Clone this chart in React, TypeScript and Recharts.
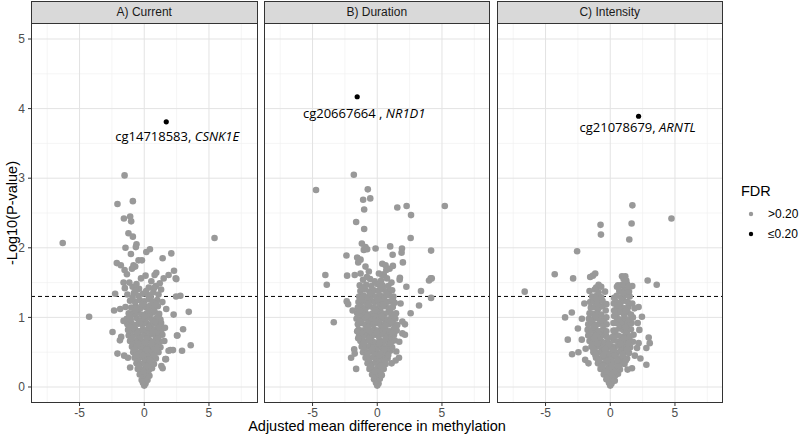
import React from "react";
import { ScatterChart, Scatter, XAxis, YAxis, CartesianGrid, ReferenceLine } from "recharts";

const xTicks = [-5, 0, 5];
const yTicks = [0, 1, 2, 3, 4, 5];
const xMinor = [-7.5, -2.5, 2.5, 7.5];
const yMinor = [0.5, 1.5, 2.5, 3.5, 4.5];
const pLine = 1.301;
const panelTitles = ["A) Current", "B) Duration", "C) Intensity"];
const legendLabels = [">0.20", "\u22640.20"];

// -log10 p vs adjusted mean difference, FDR > 0.20
const currentPoints = [
  [0, 0.02], [0.1, 0.05], [-0.1, 0.06], [-0.2, 0.1], [0.05, 0.12], [0.25, 0.1],
  [-0.35, 0.18], [-0.1, 0.17], [0.15, 0.19], [0.4, 0.16], [-0.5, 0.26], [-0.2, 0.25],
  [0.1, 0.27], [0.35, 0.24], [0.6, 0.27], [-0.6, 0.34], [-0.3, 0.33], [0, 0.35],
  [0.25, 0.32], [0.5, 0.35], [0.75, 0.33], [-0.75, 0.42], [-0.45, 0.41], [-0.15, 0.43],
  [0.1, 0.4], [0.4, 0.42], [0.65, 0.43], [0.9, 0.41], [-0.85, 0.5], [-0.55, 0.49],
  [-0.25, 0.51], [0.05, 0.5], [0.3, 0.48], [0.6, 0.51], [0.85, 0.49], [1.1, 0.5],
  [-0.95, 0.58], [-0.65, 0.57], [-0.35, 0.59], [-0.05, 0.58], [0.2, 0.56], [0.5, 0.59],
  [0.75, 0.57], [1.0, 0.6], [1.25, 0.57], [-1.1, 0.66], [-0.8, 0.65], [-0.5, 0.67],
  [-0.2, 0.66], [0.1, 0.64], [0.4, 0.67], [0.65, 0.65], [0.9, 0.68], [1.2, 0.65],
  [-1.2, 0.74], [-0.9, 0.73], [-0.6, 0.75], [-0.3, 0.72], [0, 0.75], [0.3, 0.73],
  [0.55, 0.76], [0.85, 0.74], [1.1, 0.72], [1.4, 0.75], [-1.25, 0.82], [-0.95, 0.81],
  [-0.7, 0.83], [-0.4, 0.8], [-0.1, 0.83], [0.2, 0.81], [0.5, 0.84], [0.8, 0.82],
  [1.05, 0.8], [1.35, 0.83], [-1.3, 0.9], [-1.0, 0.92], [-0.75, 0.89], [-0.45, 0.91],
  [-0.15, 0.9], [0.15, 0.92], [0.45, 0.89], [0.7, 0.91], [1.0, 0.9], [1.3, 0.92],
  [-1.35, 0.98], [-1.05, 0.97], [-0.6, 0.99], [-0.3, 0.96], [0.05, 0.98], [0.35, 1.0],
  [0.6, 0.97], [0.95, 0.99], [1.25, 0.97], [-1.2, 1.06], [-0.85, 1.05], [-0.5, 1.07],
  [-0.2, 1.04], [0.2, 1.06], [0.5, 1.05], [0.8, 1.08], [1.15, 1.05], [-1.45, 1.15],
  [-1.0, 1.14], [-0.65, 1.16], [-0.3, 1.13], [0.1, 1.15], [0.45, 1.17], [0.75, 1.14],
  [1.05, 1.16], [-1.1, 1.24], [-0.7, 1.22], [-0.35, 1.25], [0, 1.23], [0.35, 1.26],
  [0.65, 1.22], [1.0, 1.25], [1.4, 1.22], [-1.3, 1.33], [-0.8, 1.35], [-0.45, 1.31],
  [-0.1, 1.34], [0.3, 1.32], [0.7, 1.36], [1.1, 1.33], [-1.5, 1.42], [-0.9, 1.44],
  [-0.4, 1.41], [0.35, 1.43], [0.9, 1.45], [-1.6, 1.5], [-0.6, 1.48], [0.55, 1.52],
  [1.2, 1.49],
  [-0.05, 0.22], [0.2, 0.3], [-0.4, 0.3], [0.45, 0.38], [-0.6, 0.46], [0.75, 0.46],
  [-0.1, 0.46], [0.2, 0.54], [-0.8, 0.54], [0.95, 0.54], [-0.45, 0.62], [0.55, 0.62],
  [-1.0, 0.7], [0.2, 0.7], [1.05, 0.7], [-0.55, 0.78], [0.65, 0.78], [-1.1, 0.86],
  [0.35, 0.86], [1.2, 0.86], [-0.35, 0.94], [0.85, 0.94], [-1.15, 1.02], [0, 1.02],
  [1.1, 1.01], [-0.7, 1.1], [0.35, 1.1], [-0.15, 1.19], [0.9, 1.19], [-0.9, 1.28],
  [0.5, 1.29], [0.15, 1.38], [-0.65, 1.39], [0.1, 1.6], [-0.25, 1.56], [0.75, 1.42],
  [1.3, 1.4], [-1.15, 1.5],
  [-1.52, 3.04], [-2.07, 2.63], [-0.88, 2.67], [-1.57, 2.42], [-1.09, 2.45], [-1.01, 2.38],
  [-1.22, 2.21], [-0.88, 2.16], [5.43, 2.14], [-1.45, 2.0], [-0.6, 2.05], [-0.65, 2.01],
  [-1.03, 1.91], [0.16, 1.94], [0.44, 1.98], [1.42, 1.85], [2.09, 1.92], [-2.12, 1.78],
  [-1.81, 1.75], [-0.44, 1.82], [-0.18, 1.82], [-0.83, 1.75], [-0.7, 1.73], [-0.95, 1.7],
  [-1.52, 1.68], [-1.34, 1.62], [0.93, 1.64], [0.8, 1.61], [1.88, 1.61], [2.3, 1.67],
  [1.5, 1.56], [2.43, 1.56], [-6.3, 2.07], [-4.26, 1.01], [-2.45, 0.79], [-2.07, 0.48],
  [3.59, 0.6], [3.44, 1.08], [3.0, 0.83], [2.92, 0.52], [2.53, 0.74], [2.27, 1.04],
  [2.79, 1.31], [2.46, 1.3], [2.48, 1.55], [2.02, 0.53], [2.22, 0.53], [1.68, 0.4],
  [-2.33, 1.1], [-1.86, 1.12], [-2.25, 1.34], [-1.88, 0.67], [-1.78, 0.72], [-1.55, 0.45],
  [-1.26, 0.42], [-1.09, 0.28], [1.63, 0.4], [1.88, 0.52], [2.56, 0.74], [1.32, 0.3],
  [1.42, 0.27], [1.6, 0.85], [1.7, 1.12], [-1.6, 0.95], [1.55, 0.66],
];

const durationPoints = [
  [0, 0.02], [-0.1, 0.06], [0.1, 0.05], [-0.25, 0.11], [0, 0.1], [0.2, 0.12],
  [-0.4, 0.18], [-0.15, 0.17], [0.1, 0.19], [0.35, 0.17], [-0.6, 0.26], [-0.3, 0.25],
  [0, 0.27], [0.25, 0.24], [0.5, 0.26], [-0.75, 0.34], [-0.45, 0.33], [-0.15, 0.35],
  [0.15, 0.33], [0.4, 0.35], [0.65, 0.33], [-0.9, 0.42], [-0.6, 0.41], [-0.3, 0.43],
  [0, 0.41], [0.3, 0.42], [0.55, 0.44], [0.8, 0.41], [-1.1, 0.5], [-0.8, 0.49],
  [-0.5, 0.51], [-0.2, 0.5], [0.1, 0.48], [0.4, 0.51], [0.7, 0.49], [1.0, 0.52],
  [-1.2, 0.58], [-0.9, 0.57], [-0.6, 0.59], [-0.3, 0.58], [0, 0.56], [0.3, 0.59],
  [0.6, 0.57], [0.9, 0.6], [1.15, 0.57], [-1.3, 0.66], [-1.0, 0.65], [-0.7, 0.67],
  [-0.4, 0.66], [-0.1, 0.64], [0.2, 0.67], [0.5, 0.65], [0.8, 0.68], [1.1, 0.65],
  [1.35, 0.67], [-1.4, 0.74], [-1.1, 0.73], [-0.8, 0.75], [-0.5, 0.72], [-0.2, 0.75],
  [0.1, 0.73], [0.4, 0.76], [0.7, 0.74], [1.0, 0.72], [1.3, 0.75], [-1.45, 0.82],
  [-1.15, 0.81], [-0.85, 0.83], [-0.55, 0.8], [-0.25, 0.83], [0.05, 0.81], [0.35, 0.84],
  [0.65, 0.82], [0.95, 0.8], [1.25, 0.83], [1.5, 0.81], [-1.5, 0.9], [-1.2, 0.92],
  [-0.9, 0.89], [-0.6, 0.91], [-0.3, 0.9], [0, 0.92], [0.3, 0.89], [0.6, 0.91],
  [0.9, 0.9], [1.2, 0.92], [1.55, 0.89], [-1.6, 0.98], [-1.3, 0.97], [-1.0, 0.99],
  [-0.7, 0.96], [-0.4, 0.98], [-0.1, 1.0], [0.2, 0.97], [0.5, 0.99], [0.8, 0.97],
  [1.1, 1.0], [1.4, 0.98], [-1.55, 1.06], [-1.25, 1.05], [-0.95, 1.07], [-0.65, 1.04],
  [-0.35, 1.06], [-0.05, 1.05], [0.25, 1.08], [0.55, 1.05], [0.85, 1.07], [1.15, 1.04],
  [1.45, 1.06], [-1.5, 1.14], [-1.2, 1.15], [-0.9, 1.13], [-0.6, 1.16], [-0.3, 1.14],
  [0, 1.13], [0.3, 1.15], [0.6, 1.16], [0.9, 1.13], [1.2, 1.15], [-1.45, 1.22],
  [-1.1, 1.23], [-0.8, 1.21], [-0.5, 1.24], [-0.2, 1.22], [0.15, 1.21], [0.45, 1.24],
  [0.75, 1.22], [1.05, 1.23], [1.35, 1.21], [-1.4, 1.3], [-1.05, 1.31], [-0.75, 1.29],
  [-0.4, 1.32], [-0.1, 1.3], [0.25, 1.31], [0.55, 1.29], [0.9, 1.32], [1.25, 1.3],
  [-1.3, 1.38], [-0.95, 1.4], [-0.6, 1.37], [-0.25, 1.39], [0.1, 1.38], [0.45, 1.4],
  [0.8, 1.37], [1.15, 1.39], [-1.35, 1.46], [-0.85, 1.47], [-0.45, 1.45], [0, 1.48],
  [0.4, 1.46], [0.85, 1.45], [-1.1, 1.54], [-0.55, 1.55], [0.3, 1.53], [0.75, 1.56],
  [-0.2, 0.22], [0.25, 0.3], [-0.5, 0.3], [0.6, 0.38], [-0.75, 0.46], [0.15, 0.45],
  [0.85, 0.46], [-0.4, 0.54], [0.55, 0.54], [-1.05, 0.62], [0.15, 0.62], [1.0, 0.62],
  [-0.6, 0.7], [0.65, 0.7], [-1.25, 0.78], [-0.05, 0.78], [1.15, 0.78], [-0.7, 0.86],
  [0.5, 0.86], [1.35, 0.86], [-1.35, 0.94], [-0.15, 0.94], [1.05, 0.94], [-0.8, 1.02],
  [0.35, 1.02], [1.25, 1.02], [-1.35, 1.1], [-0.15, 1.1], [1.0, 1.1], [-0.7, 1.18],
  [0.45, 1.18], [-1.25, 1.26], [0, 1.26], [1.2, 1.26], [-0.55, 1.34], [0.7, 1.34],
  [-1.1, 1.42], [0.25, 1.43], [-0.2, 1.52], [1.1, 1.5], [-0.8, 1.58], [0.5, 1.62],
  [-1.81, 3.05], [-4.73, 2.83], [-0.73, 2.84], [-1.09, 2.69], [-0.54, 2.71], [-1.01, 2.55],
  [1.55, 2.58], [2.27, 2.6], [5.22, 2.6], [2.61, 2.47], [-1.63, 2.37], [-1.01, 2.27],
  [2.58, 2.14], [-1.19, 2.06], [-0.91, 2.01], [-1.04, 1.97], [-0.78, 1.98], [-0.13, 1.99],
  [1.0, 2.02], [1.91, 1.99], [1.88, 1.93], [1.19, 1.9], [4.16, 1.96], [-2.38, 1.89],
  [-1.55, 1.86], [-1.29, 1.83], [-1.47, 1.79], [-0.91, 1.73], [-0.65, 1.66], [0.39, 1.77],
  [0.64, 1.75], [1.21, 1.74], [0.95, 1.7], [0.7, 1.68], [1.98, 1.79], [-4.01, 1.61],
  [-2.33, 1.6], [-1.74, 1.61], [-1.29, 1.63], [1.75, 1.57], [4.13, 1.56], [0.39, 1.61],
  [0.13, 1.63], [-3.9, 1.47], [-3.36, 0.93], [-2.36, 1.23], [-2.25, 1.19], [-2.02, 0.42],
  [-1.63, 0.26], [-1.74, 0.48], [-1.78, 0.54], [-1.47, 0.7], [-1.55, 0.8], [3.23, 1.17],
  [2.58, 1.06], [3.38, 1.38], [4.16, 1.28], [4.0, 1.53], [4.21, 1.56], [2.14, 0.9],
  [1.94, 0.94], [1.94, 0.77], [2.14, 0.75], [1.47, 0.51], [1.68, 0.42], [1.11, 0.34],
  [1.42, 0.38], [1.73, 1.54], [2.25, 1.44], [1.8, 1.2], [-1.9, 1.1], [1.7, 0.65],
];

const intensityPoints = [
  [0, 0.02], [-0.1, 0.06], [0.1, 0.05], [-0.3, 0.11], [-0.05, 0.1], [0.2, 0.12],
  [0.35, 0.09], [-0.5, 0.18], [-0.2, 0.17], [0.1, 0.19], [0.4, 0.17], [0.6, 0.19],
  [-0.75, 0.26], [-0.45, 0.25], [-0.15, 0.27], [0.15, 0.24], [0.45, 0.26], [0.75, 0.25],
  [-0.95, 0.34], [-0.65, 0.33], [-0.35, 0.35], [-0.05, 0.33], [0.25, 0.35], [0.55, 0.33],
  [0.85, 0.35], [1.1, 0.33], [-1.1, 0.42], [-0.8, 0.41], [-0.5, 0.43], [-0.2, 0.41],
  [0.1, 0.42], [0.4, 0.44], [0.7, 0.41], [1.0, 0.43], [1.3, 0.41], [-1.3, 0.5],
  [-1.0, 0.49], [-0.7, 0.51], [-0.4, 0.5], [-0.1, 0.48], [0.2, 0.51], [0.5, 0.49],
  [0.8, 0.52], [1.1, 0.5], [1.45, 0.49], [-1.45, 0.58], [-1.15, 0.57], [-0.85, 0.59],
  [-0.55, 0.58], [-0.25, 0.56], [0.05, 0.59], [0.35, 0.57], [0.65, 0.6], [0.95, 0.57],
  [1.25, 0.59], [1.55, 0.57], [-1.6, 0.66], [-1.3, 0.65], [-1.0, 0.67], [-0.7, 0.66],
  [-0.4, 0.64], [0.3, 0.67], [0.6, 0.65], [0.9, 0.68], [1.2, 0.65], [1.5, 0.67],
  [1.75, 0.65], [-1.7, 0.74], [-1.4, 0.73], [-1.1, 0.75], [-0.8, 0.72], [-0.5, 0.75],
  [-0.3, 0.73], [0.35, 0.76], [0.6, 0.74], [0.9, 0.72], [1.2, 0.75], [1.5, 0.73],
  [1.8, 0.75], [-1.75, 0.82], [-1.45, 0.81], [-1.15, 0.83], [-0.85, 0.8], [-0.55, 0.83],
  [0.4, 0.81], [0.7, 0.84], [1.0, 0.82], [1.3, 0.8], [1.6, 0.83], [-1.7, 0.9],
  [-1.4, 0.92], [-1.1, 0.89], [-0.8, 0.91], [-0.5, 0.9], [0.45, 0.92], [0.75, 0.89],
  [1.05, 0.91], [1.35, 0.9], [1.65, 0.92], [-1.65, 0.98], [-1.35, 0.97], [-1.05, 0.99],
  [-0.75, 0.96], [-0.45, 0.98], [0.5, 1.0], [0.8, 0.97], [1.1, 0.99], [1.4, 0.97],
  [1.75, 1.0], [-1.6, 1.06], [-1.3, 1.05], [-1.0, 1.07], [-0.7, 1.04], [0.45, 1.05],
  [0.75, 1.08], [1.05, 1.05], [1.35, 1.07], [1.6, 1.04], [-1.5, 1.14], [-1.2, 1.15],
  [-0.9, 1.13], [-0.6, 1.16], [0.5, 1.14], [0.8, 1.16], [1.1, 1.13], [1.4, 1.15],
  [-1.55, 1.22], [-1.25, 1.23], [-0.95, 1.21], [-0.6, 1.24], [0.45, 1.22], [0.75, 1.21],
  [1.05, 1.24], [1.35, 1.22], [1.7, 1.2], [-1.4, 1.3], [-1.05, 1.31], [-0.7, 1.29],
  [0.5, 1.31], [0.85, 1.29], [1.2, 1.32], [1.5, 1.3], [-1.6, 1.38], [-1.2, 1.4],
  [-0.4, 1.37], [0.7, 1.38], [1.1, 1.4], [1.45, 1.37], [-0.9, 1.47], [0.9, 1.46],
  [1.3, 1.48], [1.7, 1.45],
  [-0.3, 0.22], [0.3, 0.22], [-0.6, 0.3], [0.1, 0.3], [0.7, 0.3], [-0.9, 0.38],
  [-0.2, 0.38], [0.55, 0.38], [1.2, 0.38], [-1.15, 0.46], [-0.55, 0.46], [0.35, 0.46],
  [0.95, 0.46], [-1.3, 0.54], [-0.4, 0.54], [0.2, 0.54], [1.3, 0.54], [-1.0, 0.62],
  [-0.1, 0.62], [0.8, 0.62], [1.4, 0.62], [-1.25, 0.7], [-0.15, 0.7], [0.2, 0.72],
  [1.05, 0.7], [-0.3, 0.8], [0.25, 0.81], [-1.3, 0.86], [-0.28, 0.9], [0.25, 0.92],
  [1.2, 0.86], [-0.3, 1.0], [0.3, 1.02], [-1.15, 1.02], [-0.35, 1.1], [0.3, 1.1],
  [1.2, 1.1], [-0.3, 1.19], [0.28, 1.2], [-1.1, 1.27], [0.3, 1.28], [1.0, 1.35],
  [-0.9, 1.36], [0.6, 1.46],
  [1.71, 2.61], [-0.75, 2.33], [1.65, 2.35], [4.73, 2.42], [-0.72, 2.19], [1.47, 2.12],
  [-2.56, 1.95], [-4.29, 1.62], [-2.87, 1.56], [-1.55, 1.58], [-1.34, 1.6], [-1.16, 1.63],
  [0.91, 1.59], [1.16, 1.59], [1.03, 1.55], [1.24, 1.53], [2.89, 1.53], [3.59, 1.47],
  [-1.09, 1.43], [-0.7, 1.44], [0.52, 1.44], [0.91, 1.47], [1.42, 1.44], [-6.61, 1.37],
  [-3.49, 1.0], [-2.97, 1.07], [-3.28, 0.68], [-2.95, 0.47], [-2.46, 0.5], [-2.19, 0.98],
  [-2.5, 0.84], [-2.2, 0.68], [-1.94, 0.39], [-1.68, 0.34], [2.45, 1.01], [2.12, 0.92],
  [2.25, 0.82], [2.97, 0.71], [3.05, 0.63], [2.79, 0.56], [2.19, 0.63], [2.07, 0.56],
  [2.33, 0.41], [2.79, 0.32], [1.68, 0.27], [1.34, 0.25], [1.88, 1.13], [2.19, 1.15],
  [-2.0, 1.2], [-1.9, 0.55], [1.9, 0.45],
];

// FDR <= 0.20 hits
const currentHit = [{ x: 1.7, y: 3.81, probe: "cg14718583", sep: ", ", gene: "CSNK1E" }];
const durationHit = [{ x: -1.55, y: 4.17, probe: "cg20667664", sep: " , ", gene: "NR1D1" }];
const intensityHit = [{ x: 2.19, y: 3.89, probe: "cg21078679", sep: ", ", gene: "ARNTL" }];

const toXY = (arr: number[][]) => arr.map(([x, y]) => ({ x, y }));

const panels = [
  { title: panelTitles[0], points: toXY(currentPoints), hit: currentHit, left: 31, showY: true, dx: 11, dy: 19 },
  { title: panelTitles[1], points: toXY(durationPoints), hit: durationHit, left: 263.5, showY: false, dx: 7, dy: 21 },
  { title: panelTitles[2], points: toXY(intensityPoints), hit: intensityHit, left: 496.5, showY: false, dx: -1, dy: 16 },
];

const PANEL_W = 226.5;
const TOP = 23;
const BOTTOM = 403;
const Y_AXIS_W = 31;
const GREY = "#999999";
const tickStyle = { fontSize: 12, fill: "#4d4d4d", fontFamily: "Liberation Sans, Arial, sans-serif" };

const GreyDot = (p: any) => <circle cx={p.cx} cy={p.cy} r={3.3} fill={GREY} />;

const makeHitShape = (dx: number, dy: number) => (p: any) => (
  <g>
    <circle cx={p.cx} cy={p.cy} r={2.6} fill="#000" />
    <text
      x={p.cx + dx}
      y={p.cy + dy}
      textAnchor="middle"
      fontSize={13}
      fontFamily="Open Sans, sans-serif"
      fill="#000"
    >
      {p.payload.probe}
      {p.payload.sep}
      <tspan fontStyle="italic">{p.payload.gene}</tspan>
    </text>
  </g>
);

const Panel = ({ panel }: any) => {
  const chartLeft = panel.showY ? panel.left - Y_AXIS_W : panel.left;
  const width = PANEL_W + (panel.showY ? Y_AXIS_W : 0);
  return (
    <div style={{ position: "absolute", left: chartLeft, top: 0 }}>
      <ScatterChart
        width={width}
        height={439}
        margin={{ top: TOP, right: 0, bottom: 439 - BOTTOM - 20, left: 0 }}
      >
        <CartesianGrid
          stroke="#f0f0f0"
          strokeWidth={0.7}
          horizontalValues={yMinor}
          verticalValues={xMinor}
        />
        <CartesianGrid
          stroke="#e3e3e3"
          strokeWidth={1}
          horizontalValues={yTicks}
          verticalValues={xTicks}
        />
        <XAxis
          type="number"
          dataKey="x"
          domain={[-8.75, 8.75]}
          ticks={xTicks}
          allowDataOverflow
          axisLine={false}
          tickLine={{ stroke: "#333" }}
          tickSize={3}
          tickMargin={2}
          height={20}
          tick={tickStyle}
        />
        <YAxis
          type="number"
          dataKey="y"
          domain={[-0.23, 5.23]}
          ticks={yTicks}
          allowDataOverflow
          hide={!panel.showY}
          width={Y_AXIS_W}
          axisLine={false}
          tickLine={{ stroke: "#333" }}
          tickSize={3}
          tickMargin={3}
          tick={tickStyle}
        />
        <Scatter data={panel.points} shape={GreyDot} isAnimationActive={false} />
        <ReferenceLine y={pLine} stroke="#000" strokeDasharray="4 3" strokeWidth={1} />
        <Scatter data={panel.hit} shape={makeHitShape(panel.dx, panel.dy)} isAnimationActive={false} />
      </ScatterChart>
      <div
        style={{
          position: "absolute",
          left: panel.left - chartLeft,
          top: TOP,
          width: PANEL_W,
          height: BOTTOM - TOP,
          border: "1px solid #333",
          boxSizing: "border-box",
          pointerEvents: "none",
        }}
      />
      <div
        style={{
          position: "absolute",
          left: panel.left - chartLeft,
          top: 1,
          width: PANEL_W,
          height: TOP - 1,
          background: "#d9d9d9",
          border: "1px solid #333",
          borderBottom: "none",
          boxSizing: "border-box",
          fontSize: 12,
          color: "#1a1a1a",
          textAlign: "center",
          lineHeight: `${TOP - 2}px`,
        }}
      >
        {panel.title}
      </div>
    </div>
  );
};

export default function App() {
  return (
    <div
      style={{
        position: "absolute",
        left: 0,
        top: 0,
        width: 800,
        height: 439,
        background: "#fff",
        fontFamily: "Liberation Sans, Arial, sans-serif",
      }}
    >
      {panels.map((p) => (
        <Panel key={p.title} panel={p} />
      ))}
      <div
        style={{
          position: "absolute",
          left: 31,
          width: 692,
          top: 418,
          textAlign: "center",
          fontSize: 14.5,
          lineHeight: "17px",
          color: "#000",
        }}
      >
        Adjusted mean difference in methylation
      </div>
      <div
        style={{
          position: "absolute",
          left: 12,
          top: 213,
          transform: "translate(-50%, -50%) rotate(-90deg)",
          whiteSpace: "nowrap",
          fontSize: 14.5,
          color: "#000",
        }}
      >
        -Log10(P-value)
      </div>
      <div style={{ position: "absolute", left: 741, top: 183, fontSize: 14.5, color: "#000" }}>FDR</div>
      {legendLabels.map((label, i) => (
        <div
          key={label}
          style={{ position: "absolute", left: 746, top: 206 + i * 20, height: 16, display: "flex", alignItems: "center" }}
        >
          <svg width={10} height={10}>
            <circle cx={5} cy={5} r={2.2} fill={i === 0 ? GREY : "#000"} />
          </svg>
          <span style={{ marginLeft: 12, fontSize: 12, color: "#000" }}>{label}</span>
        </div>
      ))}
    </div>
  );
}
